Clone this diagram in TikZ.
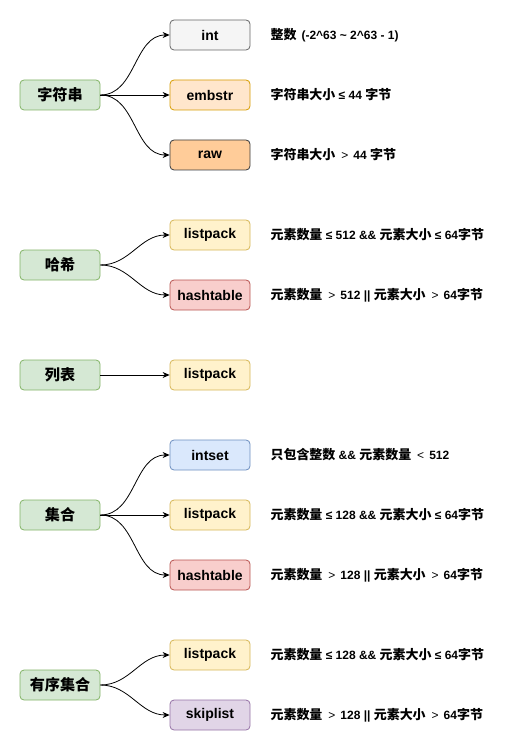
\documentclass[tikz,border=0pt]{standalone}
\usepackage{fontspec}
\setmainfont{Liberation Sans}
\newfontfamily\zh{Noto Sans CJK SC}[Scale=1.08]
\usetikzlibrary{positioning,arrows.meta}
\definecolor{typefill}{HTML}{D5E8D4}
\definecolor{typeline}{HTML}{82B366}
\definecolor{grayfill}{HTML}{F5F5F5}
\definecolor{grayline}{HTML}{666666}
\definecolor{orangefill}{HTML}{FFE6CC}
\definecolor{orangeline}{HTML}{D79B00}
\definecolor{peachfill}{HTML}{FFCC99}
\definecolor{peachline}{HTML}{36393D}
\definecolor{yellowfill}{HTML}{FFF2CC}
\definecolor{yellowline}{HTML}{D6B656}
\definecolor{redfill}{HTML}{F8CECC}
\definecolor{redline}{HTML}{B85450}
\definecolor{bluefill}{HTML}{DAE8FC}
\definecolor{blueline}{HTML}{6C8EBF}
\definecolor{purplefill}{HTML}{E1D5E7}
\definecolor{purpleline}{HTML}{9673A6}
\newcommand{\wgt}{\hspace{6pt}{\mdseries >}\hspace{5pt}}
\newcommand{\wlt}{\hspace{6pt}{\mdseries <}\hspace{5pt}}
\tikzset{
  >={Stealth[length=7pt,width=6pt]},
}
\tikzstyle{box}=[rounded corners=4pt,minimum width=80pt,minimum height=30pt,
  line width=.8pt,inner sep=0pt,font=\fontsize{14}{16}\selectfont\bfseries]
\tikzstyle{type}=[box,draw=typeline,fill=typefill]
\tikzstyle{encgray}=[box,draw=grayline,fill=grayfill]
\tikzstyle{encorange}=[box,draw=orangeline,fill=orangefill]
\tikzstyle{encpeach}=[box,draw=peachline,fill=peachfill]
\tikzstyle{encyellow}=[box,draw=yellowline,fill=yellowfill]
\tikzstyle{encred}=[box,draw=redline,fill=redfill]
\tikzstyle{encblue}=[box,draw=blueline,fill=bluefill]
\tikzstyle{encpurple}=[box,draw=purpleline,fill=purplefill]
\tikzstyle{note}=[right=20pt,inner sep=0pt,font=\fontsize{12}{14}\selectfont\bfseries]
\tikzstyle{link}=[->,line width=.8pt]

\begin{document}
\begin{tikzpicture}[x=1pt,y=-1pt]
    \useasboundingbox (0,0) rectangle (516,751);

    % string
    \node[type] (str) at (60,95) {\zh 字符串};
    \node[encgray] (strint) at (210,35) {int};
    \node[encorange] (strembstr) at (210,95) {embstr};
    \node[encpeach] (strraw) at (210,155) {raw};
    \node[note] (strintnote) at (strint.east) {{\zh 整数}\hspace{5pt}(-2\textasciicircum63 \textasciitilde{} 2\textasciicircum63 - 1)};
    \node[note] (strembstrnote) at (strembstr.east) {{\zh 字符串大小} ≤ 44 {\zh 字节}};
    \node[note] (strrawnote) at (strraw.east) {{\zh 字符串大小}\wgt 44 {\zh 字节}};
    \draw[link] (str.east) to[out=0,in=180] (strint.west);
    \draw[link] (str.east) -- (strembstr.west);
    \draw[link] (str.east) to[out=0,in=180] (strraw.west);

    % hash
    \node[type] (hash) at (60,265) {\zh 哈希};
    \node[encyellow] (hashlp) at (210,235) {listpack};
    \node[encred] (hashht) at (210,295) {hashtable};
    \node[note] (hashlpnote) at (hashlp.east) {{\zh 元素数量} ≤ 512 \&\& {\zh 元素大小} ≤ 64{\zh 字节}};
    \node[note] (hashhtnote) at (hashht.east) {{\zh 元素数量}\wgt 512 || {\zh 元素大小}\wgt 64{\zh 字节}};
    \draw[link] (hash.east) to[out=0,in=180] (hashlp.west);
    \draw[link] (hash.east) to[out=0,in=180] (hashht.west);

    % list
    \node[type] (list) at (60,375) {\zh 列表};
    \node[encyellow] (listlp) at (210,375) {listpack};
    \draw[link] (list.east) -- (listlp.west);

    % set
    \node[type] (set) at (60,515) {\zh 集合};
    \node[encblue] (setis) at (210,455) {intset};
    \node[encyellow] (setlp) at (210,515) {listpack};
    \node[encred] (setht) at (210,575) {hashtable};
    \node[note] (setisnote) at (setis.east) {{\zh 只包含整数} \&\& {\zh 元素数量}\wlt 512};
    \node[note] (setlpnote) at (setlp.east) {{\zh 元素数量} ≤ 128 \&\& {\zh 元素大小} ≤ 64{\zh 字节}};
    \node[note] (sethtnote) at (setht.east) {{\zh 元素数量}\wgt 128 || {\zh 元素大小}\wgt 64{\zh 字节}};
    \draw[link] (set.east) to[out=0,in=180] (setis.west);
    \draw[link] (set.east) -- (setlp.west);
    \draw[link] (set.east) to[out=0,in=180] (setht.west);

    % sorted set
    \node[type] (zset) at (60,685) {\zh 有序集合};
    \node[encyellow] (zsetlp) at (210,655) {listpack};
    \node[encpurple] (zsetsl) at (210,715) {skiplist};
    \node[note] (zsetlpnote) at (zsetlp.east) {{\zh 元素数量} ≤ 128 \&\& {\zh 元素大小} ≤ 64{\zh 字节}};
    \node[note] (zsetslnote) at (zsetsl.east) {{\zh 元素数量}\wgt 128 || {\zh 元素大小}\wgt 64{\zh 字节}};
    \draw[link] (zset.east) to[out=0,in=180] (zsetlp.west);
    \draw[link] (zset.east) to[out=0,in=180] (zsetsl.west);
\end{tikzpicture}
\end{document}
